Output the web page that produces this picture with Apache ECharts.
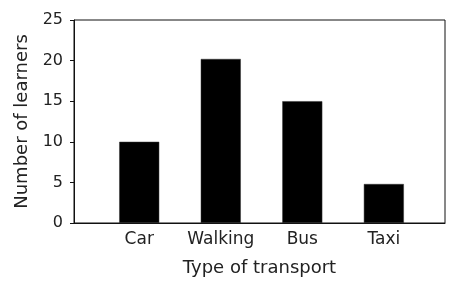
<!DOCTYPE html>
<html>
<head>
<meta charset="utf-8">
<script src="https://cdn.jsdelivr.net/npm/echarts@6/dist/echarts.min.js"></script>
<style>
html,body{margin:0;padding:0;background:#fff;}
#chart{width:464px;height:288px;}
</style>
</head>
<body>
<div id="chart"></div>
<script>
const categories = ["Car", "Walking", "Bus", "Taxi"];
const learners = [10, 20.2, 15, 4.8];
const yTicks = [0, 5, 10, 15, 20, 25];
const xTitle = "Type of transport";
const yTitle = "Number of learners";

const positions = categories.map((c, i) => i);
const seriesData = positions.map((p, i) => [p, learners[i]]);

const font = "DejaVu Sans";
const chart = echarts.init(document.getElementById('chart'), null, {renderer: 'canvas'});
chart.setOption({
  animation: false,
  backgroundColor: '#fff',
  grid: {
    left: 74, top: 20, width: 371, height: 203,
    show: true, borderColor: '#111', borderWidth: 1, backgroundColor: 'transparent',
    containLabel: false
  },
  xAxis: {
    type: 'value',
    min: -0.8,
    max: 3.75,
    name: xTitle,
    nameLocation: 'middle',
    nameGap: 36,
    nameTextStyle: {fontFamily: font, fontSize: 18, color: '#222'},
    axisLine: {show: true, onZero: false, lineStyle: {color: '#111', width: 1}},
    axisTick: {show: false},
    splitLine: {show: false},
    axisLabel: {
      customValues: positions,
      formatter: v => categories[Math.round(v)],
      fontFamily: font, fontSize: 17, color: '#222', margin: 8
    }
  },
  yAxis: {
    type: 'value',
    min: 0,
    max: 25,
    interval: 5,
    name: yTitle,
    nameLocation: 'middle',
    nameGap: 40,
    nameTextStyle: {fontFamily: font, fontSize: 18, color: '#222'},
    axisLine: {show: true, onZero: false, lineStyle: {color: '#111', width: 1}},
    axisTick: {show: true, inside: false, length: 4, lineStyle: {color: '#111'}},
    splitLine: {show: false},
    axisLabel: {
      customValues: yTicks,
      fontFamily: font, fontSize: 16, color: '#222', margin: 11
    }
  },
  series: [{
    type: 'bar',
    data: seriesData,
    barWidth: 40,
    itemStyle: {color: '#000', borderColor: '#333', borderWidth: 0.5}
  }]
});
</script>
</body>
</html>
